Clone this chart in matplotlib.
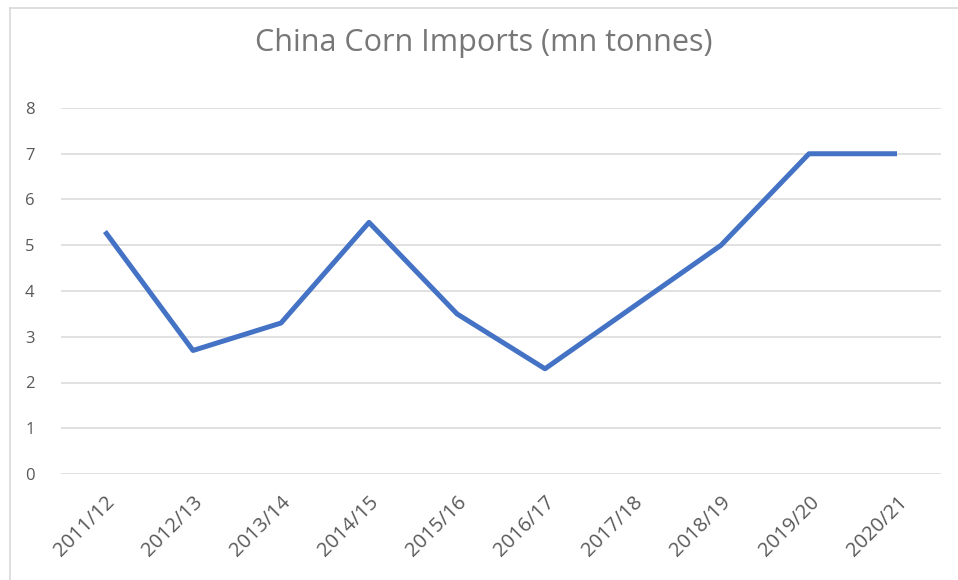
import matplotlib
matplotlib.use("Agg")
import matplotlib.pyplot as plt
from matplotlib.lines import Line2D

seasons = ["2011/12", "2012/13", "2013/14", "2014/15", "2015/16",
           "2016/17", "2017/18", "2018/19", "2019/20", "2020/21"]
imports_mt = [5.3, 2.7, 3.3, 5.5, 3.5, 2.3, 3.65, 5.0, 7.0, 7.0]
y_ticks = [0, 1, 2, 3, 4, 5, 6, 7, 8]

W, H = 958, 580
fig = plt.figure(figsize=(W / 100, H / 100), dpi=100)
fig.patch.set_facecolor("white")

ax = fig.add_axes([61 / W, 1 - 474 / H, (941 - 61) / W, (474 - 108) / H])
x = list(range(len(seasons)))
ax.plot(x, imports_mt, color="#4472C4", lw=3.6, solid_joinstyle="round",
        solid_capstyle="butt", zorder=3)

ax.set_xlim(-0.5, len(seasons) - 0.5)
ax.set_ylim(0, 8)
ax.set_yticks(y_ticks)
ax.set_yticklabels([str(v) for v in y_ticks])
ax.set_xticks(x)
ax.set_xticklabels(seasons, rotation=45, ha="right", rotation_mode="anchor")

ax.grid(axis="y", color="#D9D9D9", lw=1.1)
ax.set_axisbelow(True)
for s in ax.spines.values():
    s.set_visible(False)
ax.tick_params(axis="both", length=0, colors="#595959")
ax.tick_params(axis="y", pad=19, labelsize=12)
ax.tick_params(axis="x", pad=13, labelsize=14.5)
for lab in ax.get_xticklabels() + ax.get_yticklabels():
    lab.set_fontfamily("Open Sans")

fig.text(484 / W, 1 - 43 / H, "China Corn Imports (mn tonnes)",
         ha="center", va="center", fontsize=22, color="#777777",
         fontfamily="Open Sans")

# chart frame (left and top edges)
fig.add_artist(Line2D([10 / W, 10 / W], [0, 1 - 8 / H], transform=fig.transFigure,
                      color="#D9D9D9", lw=1.2))
fig.add_artist(Line2D([10 / W, 1], [1 - 8 / H, 1 - 8 / H], transform=fig.transFigure,
                      color="#D9D9D9", lw=1.2))

fig.savefig("out.png", dpi=100)
